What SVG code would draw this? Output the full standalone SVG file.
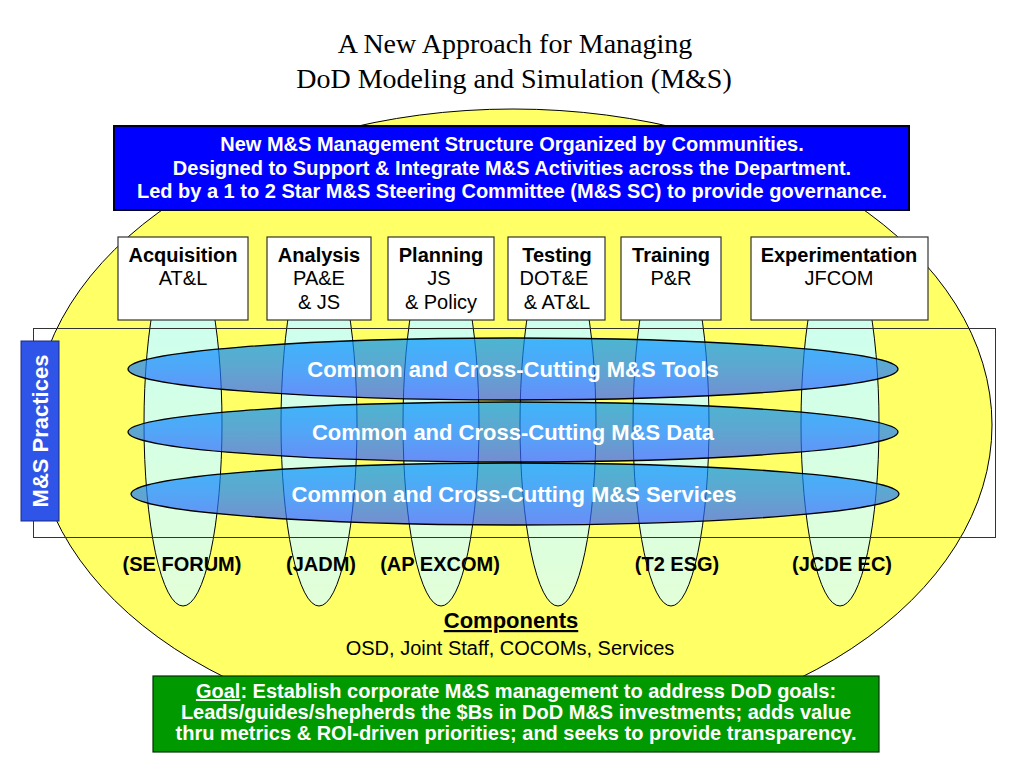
<svg xmlns="http://www.w3.org/2000/svg" width="1024" height="768" viewBox="0 0 1024 768">
<defs>
<linearGradient id="gCol" x1="0" y1="0" x2="0" y2="1">
<stop offset="0" stop-color="#c8fff4"/>
<stop offset="1" stop-color="#e2ffd8"/>
</linearGradient>
<linearGradient id="gBand" x1="0" y1="0" x2="0" y2="1">
<stop offset="0" stop-color="#0096ff"/>
<stop offset="0.5" stop-color="#1a80ff"/>
<stop offset="1" stop-color="#3a5cff"/>
</linearGradient>
<style>
.sans{font-family:"Liberation Sans",Arial,sans-serif}
.b{font-weight:bold}
.t20{font-size:20px}
.t22{font-size:22px}
.w{fill:#ffffff}
.k{fill:#000000}
.col{fill:url(#gCol);stroke:#000;stroke-width:1}
.band{fill:url(#gBand);fill-opacity:0.7;stroke:#000;stroke-width:1.3}
.cbox{fill:#ffffff;stroke:#333;stroke-width:1.2}
</style>
</defs>
<rect x="0" y="0" width="1024" height="768" fill="#ffffff"/>

<g id="title" font-family="'Liberation Serif','Times New Roman',serif" font-size="28" text-anchor="middle" fill="#000">
<text x="515" y="53">A New Approach for Managing</text>
<text x="514" y="88">DoD Modeling and Simulation (M&amp;S)</text>
</g>

<g id="components-ellipse">
<ellipse cx="513" cy="425" rx="479" ry="316" fill="#ffff66" stroke="#000" stroke-width="1"/>
</g>

<g id="community-columns">
<ellipse id="col-acq" class="col" cx="183" cy="424" rx="39" ry="182"/>
<ellipse id="col-ana" class="col" cx="319" cy="424" rx="38" ry="182"/>
<ellipse id="col-pln" class="col" cx="441" cy="424" rx="38" ry="182"/>
<ellipse id="col-tst" class="col" cx="558" cy="424" rx="38" ry="182"/>
<ellipse id="col-trn" class="col" cx="671" cy="424" rx="38" ry="182"/>
<ellipse id="col-exp" class="col" cx="840" cy="424" rx="39" ry="182"/>
</g>

<g id="practices-frame">
<rect x="33.5" y="328.5" width="962" height="209" fill="none" stroke="#333" stroke-width="1"/>
</g>

<g id="band-tools">
<ellipse class="band" cx="513" cy="369" rx="385" ry="31"/>
<text class="sans b t22 w" x="513" y="377" text-anchor="middle">Common and Cross-Cutting M&amp;S Tools</text>
</g>
<g id="band-data">
<ellipse class="band" cx="513" cy="432" rx="385" ry="30"/>
<text class="sans b t22 w" x="513" y="440" text-anchor="middle">Common and Cross-Cutting M&amp;S Data</text>
</g>
<g id="band-services">
<ellipse class="band" cx="515" cy="494" rx="384" ry="31"/>
<text class="sans b t22 w" x="514" y="502" text-anchor="middle">Common and Cross-Cutting M&amp;S Services</text>
</g>

<g id="practices-label">
<rect x="21" y="341" width="38" height="180" fill="#2f55e8" stroke="#1a2a80" stroke-width="1"/>
<text class="sans b t22 w" transform="translate(48,431) rotate(-90)" text-anchor="middle">M&amp;S Practices</text>
</g>

<g id="header">
<rect x="114" y="126" width="795" height="84" fill="#0000ff" stroke="#000022" stroke-width="2"/>
<g class="sans b t20 w" text-anchor="middle">
<text x="512" y="151">New M&amp;S Management Structure Organized by Communities.</text>
<text x="512" y="175">Designed to Support &amp; Integrate M&amp;S Activities across the Department.</text>
<text x="512" y="198">Led by a 1 to 2 Star M&amp;S Steering Committee (M&amp;S SC) to provide governance.</text>
</g>
</g>

<g id="acquisition">
<rect class="cbox" x="118" y="237" width="130" height="83"/>
<text class="sans b t20 k" x="183" y="262" text-anchor="middle">Acquisition</text>
<text class="sans t20 k" x="183" y="285" text-anchor="middle">AT&amp;L</text>
</g>
<g id="analysis">
<rect class="cbox" x="267" y="237" width="104" height="83"/>
<text class="sans b t20 k" x="319" y="262" text-anchor="middle">Analysis</text>
<text class="sans t20 k" x="319" y="285" text-anchor="middle">PA&amp;E</text>
<text class="sans t20 k" x="319" y="309" text-anchor="middle">&amp; JS</text>
</g>
<g id="planning">
<rect class="cbox" x="388" y="237" width="106" height="83"/>
<text class="sans b t20 k" x="441" y="262" text-anchor="middle">Planning</text>
<text class="sans t20 k" x="439" y="285" text-anchor="middle">JS</text>
<text class="sans t20 k" x="441" y="309" text-anchor="middle">&amp; Policy</text>
</g>
<g id="testing">
<rect class="cbox" x="508" y="237" width="97" height="83"/>
<text class="sans b t20 k" x="557" y="262" text-anchor="middle">Testing</text>
<text class="sans t20 k" x="554" y="285" text-anchor="middle">DOT&amp;E</text>
<text class="sans t20 k" x="557" y="309" text-anchor="middle">&amp; AT&amp;L</text>
</g>
<g id="training">
<rect class="cbox" x="621" y="237" width="100" height="83"/>
<text class="sans b t20 k" x="671" y="262" text-anchor="middle">Training</text>
<text class="sans t20 k" x="671" y="285" text-anchor="middle">P&amp;R</text>
</g>
<g id="experimentation">
<rect class="cbox" x="751" y="237" width="177" height="83"/>
<text class="sans b t20 k" x="839" y="262" text-anchor="middle">Experimentation</text>
<text class="sans t20 k" x="839" y="285" text-anchor="middle">JFCOM</text>
</g>

<g id="forum-labels" class="sans b t20 k" text-anchor="middle">
<text x="182" y="571">(SE FORUM)</text>
<text x="321" y="571">(JADM)</text>
<text x="440" y="571">(AP EXCOM)</text>
<text x="677" y="571">(T2 ESG)</text>
<text x="842" y="571">(JCDE EC)</text>
</g>

<g id="components-label" text-anchor="middle">
<text class="sans b t22 k" x="511" y="628" text-decoration="underline">Components</text>
<text class="sans t20 k" x="510" y="655">OSD, Joint Staff, COCOMs, Services</text>
</g>

<g id="goal">
<rect x="153" y="676" width="726" height="76" fill="#009900" stroke="#003300" stroke-width="1.2"/>
<g class="sans b t20 w" text-anchor="middle">
<text x="516" y="698"><tspan text-decoration="underline">Goal</tspan>: Establish corporate M&amp;S management to address DoD goals:</text>
<text x="516" y="719">Leads/guides/shepherds the $Bs in DoD M&amp;S investments; adds value</text>
<text x="516" y="740">thru metrics &amp; ROI-driven priorities; and seeks to provide transparency.</text>
</g>
</g>
</svg>
